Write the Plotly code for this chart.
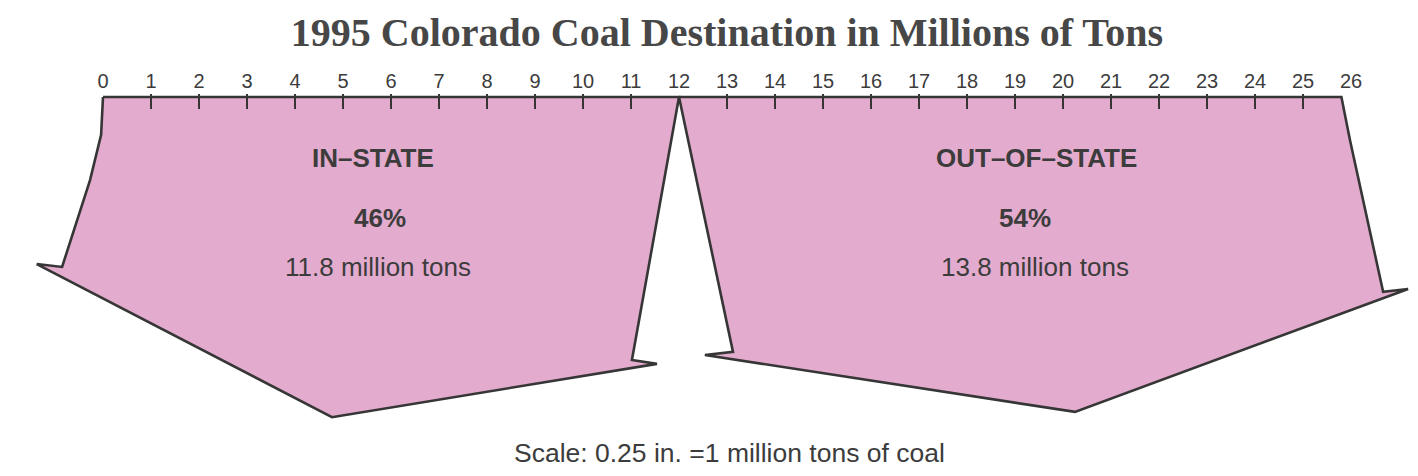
import plotly.graph_objects as go

# ---- data ----
categories = ["IN\u2013STATE", "OUT\u2013OF\u2013STATE"]
tons = [11.8, 13.8]          # million tons
percents = [46, 54]
tick_labels = list(range(0, 27))
title_text = "1995 Colorado Coal Destination in Millions of Tons"
scale_note = "Scale: 0.25 in. =1 million tons of coal"

# ---- geometry (style) ----
OFF = 8              # page body margin in the browser
PX = 48.0            # pixels per million tons
X0_PX = 103 - OFF    # figure pixel of 0
TOP_PX = 97 - OFF    # figure pixel of axis line
W, H = 1418, 476
split = 12.0         # where the two arrows meet on the scale

FILL = "#e3abcd"
EDGE = "#363636"
TEXT = "#3c3c3c"

# arrow outline templates: fraction of top span (x), depth in scale units (y)
in_fx = [0, -0.0033, -0.0225, -0.071, -0.115, 0.3975, 0.9617, 0.9183, 1.0, 0]
in_fy = [0, -0.79, -1.73, -3.54, -3.48, -6.67, -5.56, -5.48, 0, 0]
out_fx = [0, 0.0815, 0.0391, 0.5978, 1.1007, 1.063, 1.013, 1.0, 0]
out_fy = [0, -5.31, -5.375, -6.56, -4.0, -4.06, -0.9, 0, 0]


def outline(left, right, fx, fy):
    w = right - left
    return [left + f * w for f in fx], list(fy)


spans = [(0.0, split), (split, split + tons[1])]
templates = [(in_fx, in_fy), (out_fx, out_fy)]

fig = go.Figure()
for (l, r), (fx, fy), name in zip(spans, templates, categories):
    xs, ys = outline(l, r, fx, fy)
    fig.add_trace(go.Scatter(
        x=xs, y=ys, mode="lines", fill="toself", fillcolor=FILL,
        line=dict(color=EDGE, width=2.6), name=name, hoverinfo="skip",
        showlegend=False))

x_min = -X0_PX / PX
x_max = (W - X0_PX) / PX
plot_top = TOP_PX - 3
y_max = 3 / PX
y_min = -(H - TOP_PX) / PX


def sx(px):  # screen pixel x -> scale units
    return (px - OFF - X0_PX) / PX


def sy(py):  # screen pixel y -> scale units
    return -(py - OFF - TOP_PX) / PX


label_cx = {"cat": [373, 1036], "pct": [380, 1025], "tons": [378, 1035]}
label_rows = [(158, "cat"), (218, "pct"), (267, "tons")]
for i in range(2):
    ann_text = {
        "cat": "<b>%s</b>" % categories[i],
        "pct": "<b>%d%%</b>" % percents[i],
        "tons": "%s million tons" % tons[i],
    }
    for py, key in label_rows:
        fig.add_annotation(
            x=sx(label_cx[key][i]), xref="x", y=sy(py), yref="y",
            text=ann_text[key], showarrow=False,
            font=dict(family="Liberation Sans, Arial, sans-serif", size=26, color=TEXT),
            xanchor="center", yanchor="middle")

fig.add_annotation(
    x=sx(729), xref="x", y=sy(453), yref="y",
    text=scale_note, showarrow=False,
    font=dict(family="Liberation Sans, Arial, sans-serif", size=26.5, color=TEXT),
    xanchor="center", yanchor="middle")

minor_vals = [v for v in tick_labels if v not in (0, int(split), tick_labels[-1])]

fig.update_layout(
    width=W, height=H,
    margin=dict(l=0, r=0, t=plot_top, b=0),
    paper_bgcolor="white", plot_bgcolor="white",
    title=dict(text="<b>%s</b>" % title_text, x=(727 - OFF) / W, xanchor="center",
               y=1 - (32 - OFF) / H, yanchor="middle",
               font=dict(family="Liberation Serif, Times New Roman, serif",
                         size=40, color="#474747")),
    xaxis=dict(range=[x_min, x_max], side="top", showgrid=False, zeroline=False,
               showline=False, tickmode="array", tickvals=tick_labels,
               ticktext=[str(v) for v in tick_labels], ticks="",
               ticklabelstandoff=1,
               tickfont=dict(family="Liberation Sans, Arial, sans-serif", size=20, color=TEXT),
               minor=dict(tickmode="array", tickvals=minor_vals, ticks="inside",
                          ticklen=15, tickwidth=2.2, tickcolor=EDGE),
               fixedrange=True),
    yaxis=dict(range=[y_min, y_max], visible=False, fixedrange=True),
    showlegend=False,
)

fig.write_html("out.html")
